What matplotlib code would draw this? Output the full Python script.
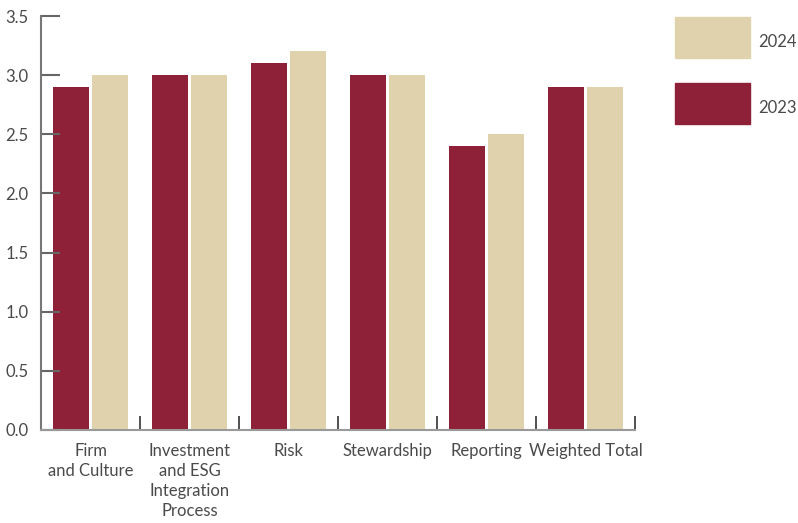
import matplotlib
matplotlib.use('Agg')
import matplotlib.pyplot as plt
from matplotlib.patches import Rectangle
import numpy as np

# Chart data
categories = ['Firm\nand Culture', 'Investment\nand ESG\nIntegration\nProcess', 'Risk',
              'Stewardship', 'Reporting', 'Weighted Total']
scores_2023 = [2.9, 3.0, 3.1, 3.0, 2.4, 2.9]
scores_2024 = [3.0, 3.0, 3.2, 3.0, 2.5, 2.9]
years = ['2024', '2023']
yticks = [0.0, 0.5, 1.0, 1.5, 2.0, 2.5, 3.0, 3.5]

red = '#8E2038'
tan = '#E0D2AC'
txt = '#4a4a4a'
fs = 12

plt.rcParams['font.family'] = ['Lato', 'DejaVu Sans']

fig = plt.figure(figsize=(7.98, 5.23), dpi=100)
ax = fig.add_axes([41/798, 1 - 430/523, 594/798, 414/523])

x = np.arange(len(categories))
w = 0.364
ax.bar(x - 0.197, scores_2023, width=w, color=red)
ax.bar(x + 0.197, scores_2024, width=w, color=tan)

ax.set_xlim(-0.5, len(categories) - 0.5)
ax.set_ylim(0, 3.5)

# y axis: ticks point inward
ax.set_yticks(yticks)
ax.set_yticklabels([f'{v:.1f}' for v in yticks], fontsize=fs, color=txt)
ax.tick_params(axis='y', direction='in', length=14, width=1.5, color='#666', pad=9)

# x axis: ticks on group boundaries, labels at centres
ax.set_xticks(x + 0.5)
ax.set_xticklabels([])
ax.tick_params(axis='x', direction='in', length=10, width=1.2, color='#333')
for i, lab in enumerate(categories):
    ax.text(i, -0.11, lab, ha='center', va='top', fontsize=fs, color=txt,
            linespacing=1.32)

for s in ['top', 'right']:
    ax.spines[s].set_visible(False)
ax.spines['left'].set_color('#777')
ax.spines['left'].set_linewidth(1.5)
ax.spines['bottom'].set_color('#999')
ax.spines['bottom'].set_linewidth(1.5)

# legend on the right
for j, (yr, col) in enumerate(zip(years, [tan, red])):
    top = 17 + j * 66
    fig.patches.append(Rectangle((675/798, 1 - (top + 41)/523), 75/798, 41/523,
                                 transform=fig.transFigure, color=col))
    fig.text(758/798, 1 - (top + 25)/523, yr, ha='left', va='center',
             fontsize=fs, color=txt)

fig.savefig('out.png', dpi=100)
